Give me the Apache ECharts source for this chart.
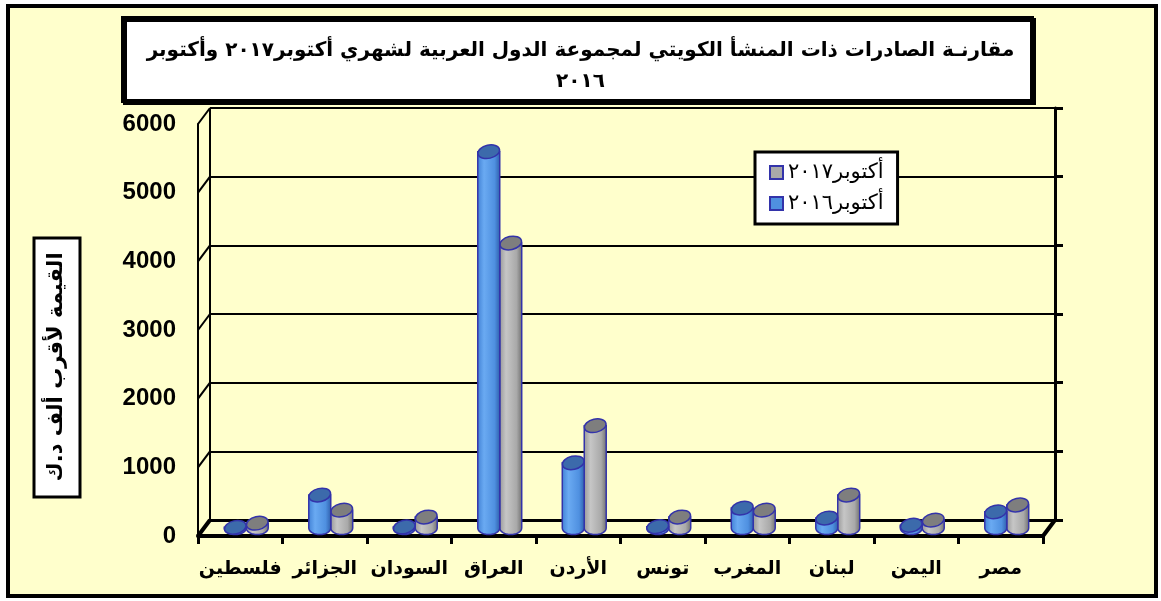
<!DOCTYPE html>
<html>
<head>
<meta charset="utf-8">
<script src="https://cdn.jsdelivr.net/npm/echarts@6/dist/echarts.min.js"></script>
<style>
html, body { margin: 0; padding: 0; background: #fff; }
#main { width: 1161px; height: 601px; }
</style>
</head>
<body>
<div id="main"></div>
<script>
// categories, left to right
var categories = ['فلسطين', 'الجزائر', 'السودان', 'العراق', 'الأردن', 'تونس', 'المغرب', 'لبنان', 'اليمن', 'مصر'];
// values (nearest thousand KD)
var oct2016 = [10, 480, 15, 5480, 950, 20, 290, 145, 40, 235];
var oct2017 = [70, 260, 160, 4150, 1490, 160, 260, 480, 115, 335];
var yTicks = [0, 1000, 2000, 3000, 4000, 5000, 6000];

var name2016 = 'أكتوبر٢٠١٦';
var name2017 = 'أكتوبر٢٠١٧';

var DX = 12, DY = -16;   // depth of the 3d box (front -> back wall)
var arabicFont = 'DejaVu Sans';

var chart = echarts.init(document.getElementById('main'));

function cylinder(offset, body, topColor) {
    return function (params, api) {
        var i = api.value(0), v = api.value(1);
        var top = api.coord([i, v]);
        var base = api.coord([i, 0]);
        var w = api.size([1, 0])[0] * 0.26;
        var cx = top[0] + DX / 2 + offset * w;
        var ty = top[1] + DY / 2, by = base[1] + DY / 2;
        var rx = w / 2, ry = w * 0.3;
        var pts = [[cx - rx, ty], [cx - rx, by]];
        for (var k = 1; k < 16; k++) {
            var a = Math.PI - Math.PI * k / 16;
            pts.push([cx + rx * Math.cos(a), by + ry * Math.sin(a)]);
        }
        pts.push([cx + rx, by], [cx + rx, ty]);
        return {
            type: 'group',
            children: [{
                type: 'polygon',
                shape: { points: pts },
                style: {
                    fill: new echarts.graphic.LinearGradient(0, 0, 1, 0, body),
                    stroke: '#3333aa', lineWidth: 1.5
                }
            }, {
                type: 'ellipse',
                shape: { cx: cx, cy: ty, rx: rx, ry: ry },
                rotation: 0.22, originX: cx, originY: ty,
                style: { fill: topColor, stroke: '#3333aa', lineWidth: 1.5 }
            }]
        };
    };
}

var blueBody = [
    { offset: 0, color: '#3f7fd4' }, { offset: 0.3, color: '#6aaaf2' },
    { offset: 0.75, color: '#4f90e0' }, { offset: 1, color: '#2c5ba8' }
];
var greyBody = [
    { offset: 0, color: '#959595' }, { offset: 0.3, color: '#c6c6c6' },
    { offset: 0.75, color: '#a9a9a9' }, { offset: 1, color: '#6c6c6c' }
];

var option = {
    backgroundColor: '#ffffff',
    animation: false,
    title: {
        text: 'مقارنـة الصادرات ذات المنشأ الكويتي لمجموعة الدول العربية لشهري أكتوبر٢٠١٧ وأكتوبر\n٢٠١٦',
        left: 'center',
        top: 30,
        textStyle: { fontFamily: arabicFont, fontSize: 20, fontWeight: 'bold', color: '#000', lineHeight: 31 }
    },
    legend: {
        orient: 'vertical',
        left: 755, top: 152,
        backgroundColor: '#fff', borderColor: '#000', borderWidth: 3,
        padding: [10, 14], itemGap: 10,
        itemWidth: 13, itemHeight: 13, icon: 'rect',
        textStyle: { fontFamily: arabicFont, fontSize: 21, color: '#000' },
        data: [
            { name: name2017, itemStyle: { color: '#a9a9a9', borderColor: '#3333aa', borderWidth: 2 } },
            { name: name2016, itemStyle: { color: '#4f90e0', borderColor: '#3333aa', borderWidth: 2 } }
        ]
    },
    grid: [
        { left: 198, width: 845, top: 124, height: 412 },
        { left: 198 + DX, width: 845, top: 124 + DY, height: 412 }
    ],
    xAxis: [{
        gridIndex: 0, type: 'category', data: categories,
        axisLine: { lineStyle: { color: '#000', width: 4 } },
        axisTick: { show: true, interval: 0, length: 8, lineStyle: { color: '#000', width: 3 } },
        axisLabel: { interval: 0, margin: 24, fontFamily: arabicFont, fontSize: 19, fontWeight: 'bold', color: '#000' }
    }, {
        gridIndex: 1, type: 'category', data: categories,
        axisLine: { lineStyle: { color: '#000', width: 3 } },
        axisTick: { show: false }, axisLabel: { show: false }
    }],
    yAxis: [{
        gridIndex: 0, type: 'value', min: 0, max: 6000, interval: 1000,
        axisLine: { show: true, lineStyle: { color: '#000', width: 2 } },
        axisTick: { show: false },
        splitLine: { show: false },
        axisLabel: {
            margin: 22, fontFamily: 'Liberation Sans', fontSize: 24, fontWeight: 'bold', color: '#000',
            formatter: function (v) { return String(v); }
        }
    }, {
        gridIndex: 1, type: 'value', min: 0, max: 6000, interval: 1000, position: 'right',
        axisLine: { show: true, lineStyle: { color: '#000', width: 3 } },
        axisTick: { show: true, inside: false, length: 8, lineStyle: { color: '#000', width: 3 } },
        axisLabel: { show: false },
        splitLine: { show: true, lineStyle: { color: '#000', width: 2 } }
    }],
    graphic: [{
        type: 'rect', z: -10,
        shape: { x: 8, y: 6, width: 1148, height: 590 },
        style: { fill: '#ffffcc', stroke: '#000', lineWidth: 4 }
    }, {
        type: 'rect', z: -5,
        shape: { x: 123, y: 18, width: 909, height: 83 },
        style: { fill: '#fff', stroke: '#000', lineWidth: 4, shadowColor: '#000', shadowOffsetX: 2, shadowOffsetY: 2 }
    }, {
        type: 'rect', z: -5,
        shape: { x: 34, y: 238, width: 46, height: 259 },
        style: { fill: '#fff', stroke: '#000', lineWidth: 3 }
    }, {
        type: 'text', z: 5,
        x: 57, y: 367, rotation: Math.PI / 2,
        style: {
            text: 'القيمة لأقرب ألف د.ك',
            font: 'bold 21px "DejaVu Sans"', fill: '#000',
            align: 'center', verticalAlign: 'middle'
        }
    }],
    series: [{
        // left wall, floor edges
        type: 'custom', name: 'walls', xAxisIndex: 0, yAxisIndex: 0,
        silent: true, legendHoverLink: false,
        data: yTicks.map(function (t) { return [0, t]; }),
        renderItem: function (params, api) {
            var cs = params.coordSys;
            var y = api.coord([0, api.value(1)])[1];
            var kids = [{
                type: 'line',
                shape: { x1: cs.x, y1: y, x2: cs.x + DX, y2: y + DY },
                style: { stroke: '#000', lineWidth: 2 }
            }];
            if (params.dataIndex === 0) {
                kids.push({
                    type: 'line',
                    shape: { x1: cs.x + DX, y1: cs.y + DY, x2: cs.x + DX, y2: cs.y + cs.height + DY },
                    style: { stroke: '#000', lineWidth: 2 }
                }, {
                    type: 'line',
                    shape: { x1: cs.x, y1: y, x2: cs.x + DX, y2: y + DY },
                    style: { stroke: '#000', lineWidth: 4 }
                }, {
                    type: 'line',
                    shape: { x1: cs.x + cs.width, y1: y, x2: cs.x + cs.width + DX, y2: y + DY },
                    style: { stroke: '#000', lineWidth: 4 }
                });
            }
            return { type: 'group', children: kids };
        }
    }, {
        type: 'custom', name: name2016, xAxisIndex: 0, yAxisIndex: 0,
        itemStyle: { color: '#4f90e0' },
        data: oct2016.map(function (v, i) { return [i, v]; }),
        renderItem: cylinder(-0.5, blueBody, '#3c6aab'),
        z: 3
    }, {
        type: 'custom', name: name2017, xAxisIndex: 0, yAxisIndex: 0,
        itemStyle: { color: '#a9a9a9' },
        data: oct2017.map(function (v, i) { return [i, v]; }),
        renderItem: cylinder(0.5, greyBody, '#7e7e7e'),
        z: 2
    }]
};

chart.setOption(option);
</script>
</body>
</html>
